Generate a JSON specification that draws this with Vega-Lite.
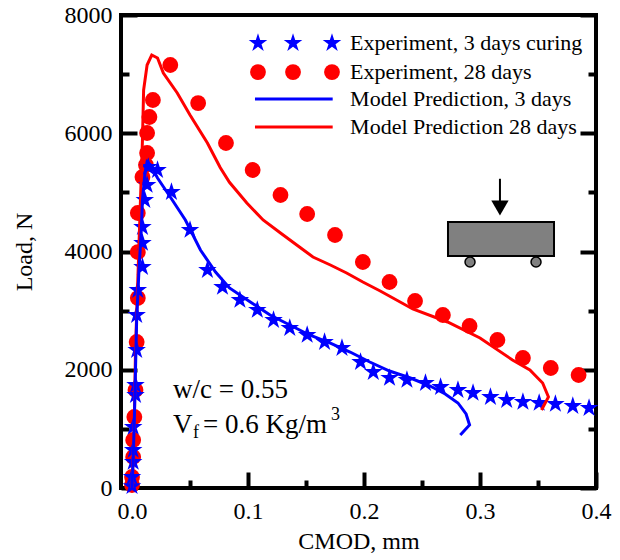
{
  "$schema": "https://vega.github.io/schema/vega-lite/v6.json",
  "autosize": "none",
  "width": 475,
  "height": 473,
  "padding": {"left": 121, "top": 15, "right": 24, "bottom": 72},
  "background": "white",
  "config": {
    "view": {"stroke": "black", "strokeWidth": 4},
    "font": "Liberation Serif",
    "axis": {"grid": false, "domain": false, "labelFont": "Liberation Serif", "titleFont": "Liberation Serif", "labelColor": "black", "titleColor": "black", "tickColor": "black", "titleFontWeight": "normal"}
  },
  "datasets": {
    "exp28": [
      {"cmod": 0.000, "load": 51}, {"cmod": 0.000, "load": 186}, {"cmod": 0.001, "load": 524}, {"cmod": 0.001, "load": 812},
      {"cmod": 0.002, "load": 1201}, {"cmod": 0.003, "load": 1657}, {"cmod": 0.004, "load": 2469}, {"cmod": 0.005, "load": 3213},
      {"cmod": 0.005, "load": 3991}, {"cmod": 0.005, "load": 4651}, {"cmod": 0.009, "load": 5260}, {"cmod": 0.012, "load": 5463},
      {"cmod": 0.013, "load": 5666}, {"cmod": 0.013, "load": 6004}, {"cmod": 0.015, "load": 6275}, {"cmod": 0.018, "load": 6562},
      {"cmod": 0.033, "load": 7154}, {"cmod": 0.057, "load": 6511}, {"cmod": 0.081, "load": 5835}, {"cmod": 0.104, "load": 5378},
      {"cmod": 0.128, "load": 4956}, {"cmod": 0.151, "load": 4634}, {"cmod": 0.175, "load": 4279}, {"cmod": 0.199, "load": 3822},
      {"cmod": 0.222, "load": 3484}, {"cmod": 0.244, "load": 3163}, {"cmod": 0.268, "load": 2926}, {"cmod": 0.291, "load": 2740},
      {"cmod": 0.315, "load": 2503}, {"cmod": 0.337, "load": 2199}, {"cmod": 0.361, "load": 2030}, {"cmod": 0.385, "load": 1911}
    ],
    "exp3": [
      {"cmod": 0.000, "load": 30}, {"cmod": 0.000, "load": 186}, {"cmod": 0.001, "load": 440}, {"cmod": 0.001, "load": 643},
      {"cmod": 0.001, "load": 1032}, {"cmod": 0.003, "load": 1573}, {"cmod": 0.003, "load": 1742}, {"cmod": 0.004, "load": 2334},
      {"cmod": 0.004, "load": 2926}, {"cmod": 0.005, "load": 3349}, {"cmod": 0.009, "load": 3738}, {"cmod": 0.009, "load": 4144},
      {"cmod": 0.009, "load": 4414}, {"cmod": 0.011, "load": 4871}, {"cmod": 0.013, "load": 5125}, {"cmod": 0.014, "load": 5429},
      {"cmod": 0.022, "load": 5378}, {"cmod": 0.034, "load": 5006}, {"cmod": 0.050, "load": 4364}, {"cmod": 0.065, "load": 3687},
      {"cmod": 0.078, "load": 3400}, {"cmod": 0.093, "load": 3180}, {"cmod": 0.108, "load": 3011}, {"cmod": 0.122, "load": 2841},
      {"cmod": 0.136, "load": 2706}, {"cmod": 0.151, "load": 2588}, {"cmod": 0.166, "load": 2469}, {"cmod": 0.181, "load": 2368},
      {"cmod": 0.197, "load": 2131}, {"cmod": 0.208, "load": 1962}, {"cmod": 0.222, "load": 1861}, {"cmod": 0.237, "load": 1827},
      {"cmod": 0.253, "load": 1776}, {"cmod": 0.266, "load": 1708}, {"cmod": 0.281, "load": 1657}, {"cmod": 0.294, "load": 1607},
      {"cmod": 0.309, "load": 1539}, {"cmod": 0.323, "load": 1488}, {"cmod": 0.337, "load": 1455}, {"cmod": 0.351, "load": 1438},
      {"cmod": 0.365, "load": 1421}, {"cmod": 0.380, "load": 1387}, {"cmod": 0.394, "load": 1353}
    ],
    "model3": [
      {"i": 1, "cmod": 0.000, "load": 0}, {"i": 2, "cmod": 0.001, "load": 474}, {"i": 3, "cmod": 0.002, "load": 1150},
      {"i": 4, "cmod": 0.003, "load": 1996}, {"i": 5, "cmod": 0.004, "load": 2841}, {"i": 6, "cmod": 0.006, "load": 3687},
      {"i": 7, "cmod": 0.008, "load": 4364}, {"i": 8, "cmod": 0.009, "load": 4871}, {"i": 9, "cmod": 0.011, "load": 5294},
      {"i": 10, "cmod": 0.013, "load": 5514}, {"i": 11, "cmod": 0.016, "load": 5463}, {"i": 12, "cmod": 0.022, "load": 5243},
      {"i": 13, "cmod": 0.033, "load": 4922}, {"i": 14, "cmod": 0.046, "load": 4533}, {"i": 15, "cmod": 0.059, "load": 4025},
      {"i": 16, "cmod": 0.072, "load": 3653}, {"i": 17, "cmod": 0.084, "load": 3383}, {"i": 18, "cmod": 0.102, "load": 3146},
      {"i": 19, "cmod": 0.119, "load": 2926}, {"i": 20, "cmod": 0.136, "load": 2757}, {"i": 21, "cmod": 0.153, "load": 2588},
      {"i": 22, "cmod": 0.171, "load": 2452}, {"i": 23, "cmod": 0.188, "load": 2300}, {"i": 24, "cmod": 0.205, "load": 2131},
      {"i": 25, "cmod": 0.222, "load": 1979}, {"i": 26, "cmod": 0.240, "load": 1860}, {"i": 27, "cmod": 0.257, "load": 1725},
      {"i": 28, "cmod": 0.270, "load": 1590}, {"i": 29, "cmod": 0.281, "load": 1438}, {"i": 30, "cmod": 0.288, "load": 1252},
      {"i": 31, "cmod": 0.291, "load": 1066}, {"i": 32, "cmod": 0.283, "load": 896}
    ],
    "model28": [
      {"i": 1, "cmod": 0.000, "load": 0}, {"i": 2, "cmod": 0.002, "load": 1150}, {"i": 3, "cmod": 0.003, "load": 2334},
      {"i": 4, "cmod": 0.005, "load": 3518}, {"i": 5, "cmod": 0.007, "load": 4702}, {"i": 6, "cmod": 0.009, "load": 5886},
      {"i": 7, "cmod": 0.010, "load": 6731}, {"i": 8, "cmod": 0.013, "load": 7154}, {"i": 9, "cmod": 0.017, "load": 7323},
      {"i": 10, "cmod": 0.022, "load": 7273}, {"i": 11, "cmod": 0.027, "load": 7019}, {"i": 12, "cmod": 0.039, "load": 6681},
      {"i": 13, "cmod": 0.050, "load": 6309}, {"i": 14, "cmod": 0.065, "load": 5835}, {"i": 15, "cmod": 0.076, "load": 5420},
      {"i": 16, "cmod": 0.084, "load": 5170}, {"i": 17, "cmod": 0.099, "load": 4820}, {"i": 18, "cmod": 0.113, "load": 4533},
      {"i": 19, "cmod": 0.128, "load": 4313}, {"i": 20, "cmod": 0.142, "load": 4110}, {"i": 21, "cmod": 0.156, "load": 3907},
      {"i": 22, "cmod": 0.171, "load": 3772}, {"i": 23, "cmod": 0.185, "load": 3636}, {"i": 24, "cmod": 0.199, "load": 3484},
      {"i": 25, "cmod": 0.214, "load": 3332}, {"i": 26, "cmod": 0.242, "load": 3028}, {"i": 27, "cmod": 0.272, "load": 2808},
      {"i": 28, "cmod": 0.300, "load": 2537}, {"i": 29, "cmod": 0.328, "load": 2165}, {"i": 30, "cmod": 0.343, "load": 1996},
      {"i": 31, "cmod": 0.354, "load": 1776}, {"i": 32, "cmod": 0.359, "load": 1539}, {"i": 33, "cmod": 0.353, "load": 1319}
    ],
    "legendStars": [{"cmod": 0.1086, "load": 7525}, {"cmod": 0.1388, "load": 7525}, {"cmod": 0.1724, "load": 7525}],
    "legendDots": [{"cmod": 0.1086, "load": 7035}, {"cmod": 0.1388, "load": 7035}, {"cmod": 0.1724, "load": 7035}],
    "legendLines": [
      {"series": "Model Prediction, 3 days", "cmod": 0.106, "cmod2": 0.173, "load": 6578},
      {"series": "Model Prediction 28 days", "cmod": 0.106, "cmod2": 0.173, "load": 6105}
    ],
    "legendText": [
      {"label": "Experiment, 3 days curing", "cmod": 0.188, "load": 7525},
      {"label": "Experiment, 28 days", "cmod": 0.188, "load": 7035},
      {"label": "Model Prediction, 3 days", "cmod": 0.188, "load": 6578},
      {"label": "Model Prediction 28 days", "cmod": 0.188, "load": 6105}
    ],
    "noteBig": [
      {"label": "w/c = 0.55", "cmod": 0.0353, "load": 1657},
      {"label": "V", "cmod": 0.0353, "load": 1066},
      {"label": "= 0.6 Kg/m", "cmod": 0.0612, "load": 1066}
    ],
    "noteSmall": [
      {"label": "f", "cmod": 0.0526, "load": 930},
      {"label": "3", "cmod": 0.1715, "load": 1230}
    ],
    "beam": [{"cmod": 0.2724, "cmod2": 0.3638, "load": 4499, "load2": 3924}],
    "wheels": [{"cmod": 0.2914, "load": 3822}, {"cmod": 0.3483, "load": 3822}],
    "shaft": [{"cmod": 0.3172, "load": 5230, "load2": 4850}],
    "arrowHead": [{"cmod": 0.3172, "load": 4736}]
  },
  "encoding": {
    "x": {"field": "cmod", "type": "quantitative", "scale": {"domain": [-0.0095, 0.4], "nice": false, "zero": false}, "axis": null},
    "y": {"field": "load", "type": "quantitative", "scale": {"domain": [0, 8000], "nice": false, "zero": false}, "axis": null}
  },
  "resolve": {"axis": {"x": "independent", "y": "independent"}},
  "layer": [
    {
      "data": {"name": "exp28"},
      "mark": {"type": "point", "shape": "circle", "filled": true, "color": "#FF0000", "size": 250, "opacity": 1},
      "encoding": {
        "x": {"field": "cmod", "type": "quantitative", "scale": {"domain": [-0.0095, 0.4], "nice": false, "zero": false},
          "axis": {"orient": "bottom", "values": [0, 0.1, 0.2, 0.3, 0.4], "format": ".1f", "tickSize": -16, "tickWidth": 4,
            "labelPadding": 27, "labelFontSize": 24, "labelFlush": false, "labelOverlap": false,
            "title": "CMOD, mm", "titleFontSize": 24, "titlePadding": 6}},
        "y": {"field": "load", "type": "quantitative", "scale": {"domain": [0, 8000], "nice": false, "zero": false},
          "axis": {"orient": "left", "values": [0, 2000, 4000, 6000, 8000], "format": "d", "tickSize": -16, "tickWidth": 4,
            "labelPadding": 25, "labelFontSize": 24, "labelFlush": false, "labelOverlap": false,
            "title": "Load, N", "titleFontSize": 24, "titlePadding": 28}}
      }
    },
    {
      "data": {"name": "exp3"},
      "mark": {"type": "point", "shape": "M0,-1L0.225,-0.309L0.951,-0.309L0.363,0.118L0.588,0.809L0,0.382L-0.588,0.809L-0.363,0.118L-0.951,-0.309L-0.225,-0.309Z", "filled": true, "color": "#0000FF", "size": 380, "opacity": 1},
      "encoding": {
        "x": {"field": "cmod", "type": "quantitative", "scale": {"domain": [-0.0095, 0.4], "nice": false, "zero": false},
          "axis": {"orient": "bottom", "values": [0.05, 0.15, 0.25, 0.35], "tickSize": -8, "tickWidth": 4, "labels": false, "title": null}},
        "y": {"field": "load", "type": "quantitative", "scale": {"domain": [0, 8000], "nice": false, "zero": false},
          "axis": {"orient": "right", "values": [0, 2000, 4000, 6000, 8000], "tickSize": -16, "tickWidth": 4, "labels": false, "title": null}}
      }
    },
    {
      "data": {"name": "model28"},
      "mark": {"type": "line", "color": "#FF0000", "strokeWidth": 3},
      "encoding": {
        "y": {"field": "load", "type": "quantitative", "scale": {"domain": [0, 8000], "nice": false, "zero": false},
          "axis": {"orient": "left", "values": [1000, 3000, 5000, 7000], "tickSize": -8, "tickWidth": 4, "labels": false, "title": null}},
        "order": {"field": "i", "type": "quantitative"}
      }
    },
    {
      "data": {"name": "model3"},
      "mark": {"type": "line", "color": "#0000FF", "strokeWidth": 3},
      "encoding": {
        "y": {"field": "load", "type": "quantitative", "scale": {"domain": [0, 8000], "nice": false, "zero": false},
          "axis": {"orient": "right", "values": [1000, 3000, 5000, 7000], "tickSize": -8, "tickWidth": 4, "labels": false, "title": null}},
        "order": {"field": "i", "type": "quantitative"}
      }
    },
    {
      "data": {"name": "legendStars"},
      "mark": {"type": "point", "shape": "M0,-1L0.225,-0.309L0.951,-0.309L0.363,0.118L0.588,0.809L0,0.382L-0.588,0.809L-0.363,0.118L-0.951,-0.309L-0.225,-0.309Z", "filled": true, "color": "#0000FF", "size": 380, "opacity": 1},
      "encoding": {}
    },
    {
      "data": {"name": "legendDots"},
      "mark": {"type": "point", "shape": "circle", "filled": true, "color": "#FF0000", "size": 250, "opacity": 1},
      "encoding": {}
    },
    {
      "data": {"name": "legendLines"},
      "mark": {"type": "rule", "strokeWidth": 3},
      "encoding": {
        "x2": {"field": "cmod2"},
        "color": {"field": "series", "type": "nominal", "scale": {"domain": ["Model Prediction, 3 days", "Model Prediction 28 days"], "range": ["#0000FF", "#FF0000"]}, "legend": null}
      }
    },
    {
      "data": {"name": "legendText"},
      "mark": {"type": "text", "align": "left", "baseline": "middle", "fontSize": 22, "font": "Liberation Serif", "color": "black"},
      "encoding": {"text": {"field": "label"}}
    },
    {
      "data": {"name": "noteBig"},
      "mark": {"type": "text", "align": "left", "baseline": "middle", "fontSize": 27, "font": "Liberation Serif", "color": "black"},
      "encoding": {"text": {"field": "label"}}
    },
    {
      "data": {"name": "noteSmall"},
      "mark": {"type": "text", "align": "left", "baseline": "middle", "fontSize": 18, "font": "Liberation Serif", "color": "black"},
      "encoding": {"text": {"field": "label"}}
    },
    {
      "data": {"name": "beam"},
      "mark": {"type": "rect", "fill": "#808080", "stroke": "black", "strokeWidth": 2},
      "encoding": {"x2": {"field": "cmod2"}, "y2": {"field": "load2"}}
    },
    {
      "data": {"name": "wheels"},
      "mark": {"type": "point", "shape": "circle", "filled": true, "fill": "#808080", "stroke": "black", "strokeWidth": 1.5, "size": 100, "opacity": 1},
      "encoding": {}
    },
    {
      "data": {"name": "shaft"},
      "mark": {"type": "rule", "color": "black", "strokeWidth": 2},
      "encoding": {"y2": {"field": "load2"}}
    },
    {
      "data": {"name": "arrowHead"},
      "mark": {"type": "point", "shape": "triangle-down", "filled": true, "color": "black", "size": 300, "opacity": 1},
      "encoding": {}
    }
  ]
}
